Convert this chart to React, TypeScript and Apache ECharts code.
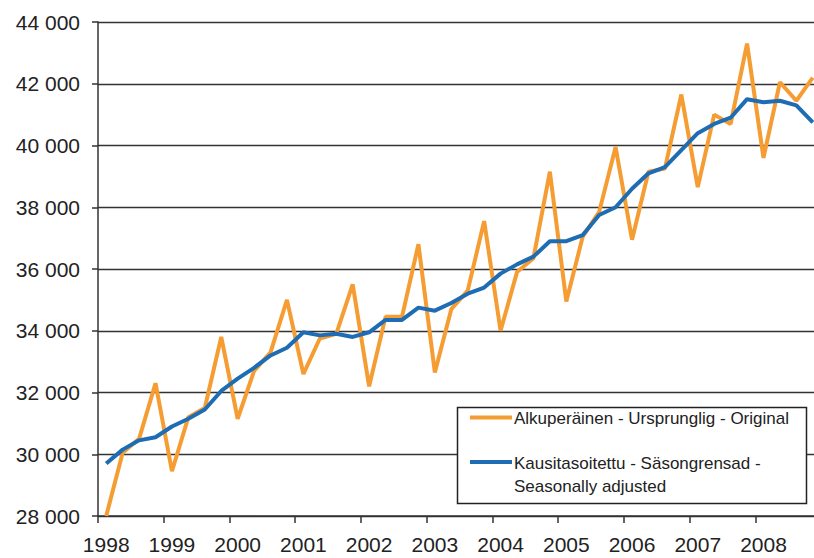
import React, { useEffect, useRef } from "react";
import * as echarts from "echarts";

const years = ["1998", "1999", "2000", "2001", "2002", "2003", "2004", "2005", "2006", "2007", "2008"];
const quarters = ["Q1", "Q2", "Q3", "Q4"];
const categories: string[] = years.flatMap((y) => quarters.map((q) => y + q));

const original = [
  28000, 30050, 30500, 32300,
  29450, 31200, 31500, 33800,
  31150, 32700, 33300, 35000,
  32600, 33750, 33900, 35500,
  32200, 34450, 34450, 36800,
  32650, 34700, 35300, 37550,
  34000, 35900, 36350, 39150,
  34950, 37050, 37850, 39950,
  36950, 39150, 39250, 41650,
  38650, 41000, 40700, 43300,
  39600, 42050, 41450, 42200,
];

const seasonal = [
  29700, 30150, 30450, 30550,
  30900, 31150, 31450, 32050,
  32450, 32800, 33200, 33450,
  33950, 33850, 33900, 33800,
  33950, 34350, 34350, 34750,
  34650, 34900, 35200, 35400,
  35850, 36150, 36400, 36900,
  36900, 37100, 37750, 38000,
  38600, 39100, 39300, 39850,
  40400, 40700, 40900, 41500,
  41400, 41450, 41300, 40750,
];

const seriesNames = [
  "Alkuperäinen - Ursprunglig - Original",
  "Kausitasoitettu - Säsongrensad -",
  "Seasonally adjusted",
];

const ORANGE = "#F59D33";
const BLUE = "#1E6CB4";
const INK = "#222222";
const FONT = 'Arial, "Liberation Sans", sans-serif';

export default function App() {
  const ref = useRef<HTMLDivElement>(null);

  useEffect(() => {
    document.body.style.margin = "0";
    const chart = echarts.init(ref.current!, null, { renderer: "svg" });
    chart.setOption({
      animation: false,
      backgroundColor: "#ffffff",
      grid: { left: 98, top: 22, width: 723, height: 494, containLabel: false },
      xAxis: {
        type: "category",
        data: categories,
        boundaryGap: true,
        axisLine: { show: true, lineStyle: { color: "#333", width: 1.5 } },
        axisTick: { show: true, interval: 3, length: 7, lineStyle: { color: "#333", width: 1.5 } },
        axisLabel: {
          interval: 3,
          formatter: (v: string) => v.slice(0, 4),
          fontSize: 21,
          fontFamily: FONT,
          color: INK,
          margin: 18,
        },
        splitLine: { show: false },
      },
      yAxis: {
        type: "value",
        min: 28000,
        max: 44000,
        interval: 2000,
        axisLine: { show: true, lineStyle: { color: "#333", width: 1.5 } },
        axisTick: { show: true, length: 6, lineStyle: { color: "#333", width: 1.5 } },
        axisLabel: {
          formatter: (v: number) => String(v).replace(/\B(?=(\d{3})+(?!\d))/g, " "),
          fontSize: 21,
          fontFamily: FONT,
          color: INK,
          margin: 18,
        },
        splitLine: { show: true, lineStyle: { color: "#333", width: 1.3 } },
      },
      series: [
        {
          name: seriesNames[0],
          type: "line",
          data: original,
          showSymbol: false,
          lineStyle: { color: ORANGE, width: 4 },
          itemStyle: { color: ORANGE },
        },
        {
          name: seriesNames[1] + " " + seriesNames[2],
          type: "line",
          data: seasonal,
          showSymbol: false,
          lineStyle: { color: BLUE, width: 4 },
          itemStyle: { color: BLUE },
        },
      ],
      graphic: [
        {
          type: "rect",
          z: 100,
          shape: { x: 457.5, y: 407.5, width: 349, height: 96 },
          style: { fill: "#ffffff", stroke: "#222", lineWidth: 1.5 },
        },
        {
          type: "line",
          z: 101,
          shape: { x1: 470, y1: 417.5, x2: 512, y2: 417.5 },
          style: { stroke: ORANGE, lineWidth: 4 },
        },
        {
          type: "line",
          z: 101,
          shape: { x1: 470, y1: 462, x2: 512, y2: 462 },
          style: { stroke: BLUE, lineWidth: 4 },
        },
        {
          type: "text",
          z: 101,
          x: 514,
          y: 418,
          style: { text: seriesNames[0], fontSize: 17, fontFamily: FONT, fill: INK, verticalAlign: "middle", align: "left" },
        },
        {
          type: "text",
          z: 101,
          x: 514,
          y: 463,
          style: { text: seriesNames[1], fontSize: 17, fontFamily: FONT, fill: INK, verticalAlign: "middle", align: "left" },
        },
        {
          type: "text",
          z: 101,
          x: 514,
          y: 486,
          style: { text: seriesNames[2], fontSize: 17, fontFamily: FONT, fill: INK, verticalAlign: "middle", align: "left" },
        },
      ],
    });
    return () => chart.dispose();
  }, []);

  return (
    <div style={{ position: "absolute", left: 0, top: 0, width: 814, height: 558, overflow: "hidden" }}>
      <div ref={ref} style={{ position: "absolute", left: 0, top: 0, width: 840, height: 558 }} />
    </div>
  );
}
